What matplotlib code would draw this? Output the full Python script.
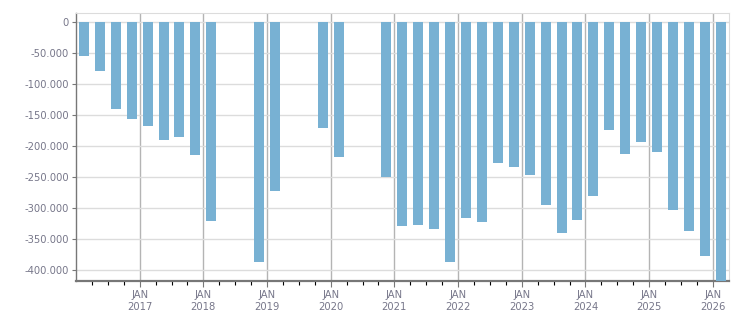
import matplotlib
matplotlib.use('Agg')
import matplotlib.pyplot as plt
from matplotlib.ticker import FixedLocator, FuncFormatter

# quarterly bars: (year, quarter) and value
periods = [(2016, 1), (2016, 2), (2016, 3), (2016, 4), (2017, 1), (2017, 2), (2017, 3), (2017, 4),
           (2018, 1), (2018, 4), (2019, 1), (2019, 4), (2020, 1),
           (2020, 4), (2021, 1), (2021, 2), (2021, 3), (2021, 4), (2022, 1), (2022, 2), (2022, 3),
           (2022, 4), (2023, 1), (2023, 2), (2023, 3), (2023, 4), (2024, 1), (2024, 2), (2024, 3),
           (2024, 4), (2025, 1), (2025, 2), (2025, 3), (2025, 4), (2026, 1)]
values = [-53800, -78000, -139300, -155500, -166700, -189300, -184500, -213500,
          -320000, -386000, -271600, -170000, -216700,
          -249000, -328000, -326500, -333000, -386000, -315000, -321600, -226500,
          -232900, -245800, -294200, -339300, -318400, -279700, -173200, -212000,
          -192500, -208700, -302300, -336000, -376500, -425000]
tick_years = list(range(2017, 2027))

x = [y + (q - 1) * 0.25 + 0.125 for y, q in periods]

label_color = '#77778a'
plt.rcParams['font.family'] = 'DejaVu Sans'

fig = plt.figure(figsize=(7.51, 3.13), dpi=100)
ax = fig.add_axes([76 / 751, 1 - 280.7 / 313, (728.7 - 76) / 751, (280.7 - 13.3) / 313])

ax.bar(x, values, width=0.157, color='#78b1d3', zorder=3)

ax.set_xlim(2016.0, 2026.25)
ax.set_ylim(-416800, 14500)

ax.yaxis.set_major_locator(FixedLocator(range(-400000, 1, 50000)))
ax.yaxis.set_major_formatter(FuncFormatter(lambda v, p: f'{int(v):,}'.replace(',', '.')))

minors = [y + q * 0.25 for y in range(2016, 2027) for q in (1, 2, 3) if y + q * 0.25 < 2026.25]
ax.xaxis.set_major_locator(FixedLocator(tick_years))
ax.xaxis.set_minor_locator(FixedLocator(minors))
ax.set_xticklabels([f'JAN\n{y}' for y in tick_years], linespacing=1.25)

ax.grid(axis='y', color='#dcdcdc', linewidth=1.0, zorder=0)
ax.grid(axis='x', which='major', color='#b4b4b4', linewidth=1.0, zorder=1)

ax.tick_params(axis='both', colors='#777777', labelcolor=label_color, labelsize=7.2)
ax.tick_params(axis='x', which='major', length=4, width=0.8, pad=3)
ax.tick_params(axis='x', which='minor', length=3, width=0.8)
ax.tick_params(axis='y', length=3, width=0.8, pad=2)

ax.spines['left'].set_color('#777777')
ax.spines['left'].set_linewidth(1.0)
ax.spines['bottom'].set_color('#777777')
ax.spines['bottom'].set_linewidth(1.6)
ax.spines['top'].set_color('#dcdcdc')
ax.spines['right'].set_color('#dcdcdc')

plt.savefig('out.png', dpi=100)
